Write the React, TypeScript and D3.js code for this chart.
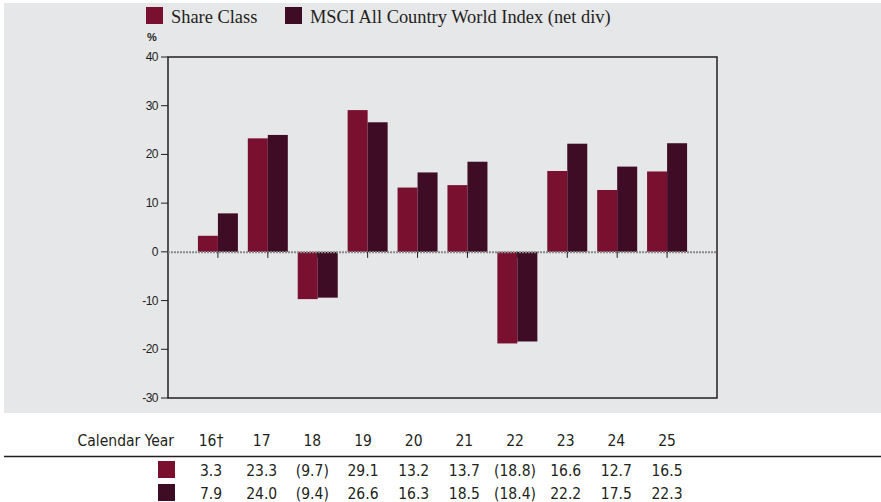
import * as d3 from "d3";

const years = ["16†", "17", "18", "19", "20", "21", "22", "23", "24", "25"];
const shareClass = [3.3, 23.3, -9.7, 29.1, 13.2, 13.7, -18.8, 16.6, 12.7, 16.5];
const msciIndex = [7.9, 24.0, -9.4, 26.6, 16.3, 18.5, -18.4, 22.2, 17.5, 22.3];
const yTicks = [40, 30, 20, 10, 0, -10, -20, -30];
const seriesNames = ["Share Class", "MSCI All Country World Index (net div)"];
const colors = ["#7a1030", "#3f0c26"];

const fmt = (v: number) => (v < 0 ? `(${Math.abs(v).toFixed(1)})` : v.toFixed(1));

export default function App() {
  const W = 881, H = 502;
  const left = 168, right = 717, top = 57, bottom = 398;
  const x = d3.scalePoint<string>().domain(years).range([left, right]).padding(1);
  const y = d3.scaleLinear().domain([-30, 40]).range([bottom, top]);
  const barW = 20;
  const tx = d3.scalePoint<string>().domain(years).range([211, 667]);
  const tableFont = "'DejaVu Sans Condensed', 'Open Sans', sans-serif";

  return (
    <svg width={W} height={H} style={{ position: "absolute", left: 0, top: 0 }}>
      <rect x={4} y={3} width={W - 4} height={410} fill="#e6e7e9" />
      {/* legend */}
      {seriesNames.map((n, i) => {
        const lx = i === 0 ? 146 : 285;
        return (
          <g key={n}>
            <rect x={lx} y={7} width={17} height={17} fill={colors[i]} />
            <text x={lx + 25} y={23} fontFamily="'Liberation Serif', serif" fontSize={18.4} fill="#231f20">
              {n}
            </text>
          </g>
        );
      })}
      <text x={147} y={41} fontFamily="'Liberation Sans', Arial, sans-serif" fontSize={11} fontWeight="bold" fill="#231f20">%</text>
      {/* frame */}
      <rect x={left} y={top} width={right - left} height={bottom - top} fill="none" stroke="#231f20" strokeWidth={1.5} />
      {yTicks.map((t) => (
        <g key={t}>
          <line x1={left - 7} x2={left} y1={y(t)} y2={y(t)} stroke="#231f20" />
          <text x={left - 10} y={y(t) + 4} textAnchor="end" fontFamily="'Liberation Sans', Arial, sans-serif" fontSize={12} letterSpacing={-0.5} fill="#231f20">
            {t}
          </text>
        </g>
      ))}
      {/* bars */}
      {years.map((yr, i) => {
        const cx = x(yr)!;
        return (
          <g key={yr}>
            {[shareClass[i], msciIndex[i]].map((v, j) => (
              <rect
                key={j}
                x={cx - barW + j * barW}
                y={y(Math.max(0, v))}
                width={barW}
                height={Math.abs(y(v) - y(0))}
                fill={colors[j]}
              />
            ))}
          </g>
        );
      })}
      <line x1={left} x2={right} y1={y(0) + 0.5} y2={y(0) + 0.5} stroke="#8a8a8a" strokeWidth={2} strokeDasharray="2,1" />
      {years.map((yr) => (
        <line key={yr} x1={x(yr)} x2={x(yr)} y1={y(0)} y2={y(0) + 6} stroke="#231f20" />
      ))}
      {/* table */}
      <text x={174} y={446} textAnchor="end" fontFamily={tableFont} fontSize={15.5} fill="#231f20">Calendar Year</text>
      {years.map((yr) => (
        <text key={yr} x={tx(yr)} y={446} textAnchor="middle" fontFamily={tableFont} fontSize={15.5} fill="#231f20">{yr}</text>
      ))}
      <line x1={4} x2={W} y1={456.5} y2={456.5} stroke="#231f20" strokeWidth={1.5} />
      {[shareClass, msciIndex].map((row, r) => (
        <g key={r}>
          <rect x={158} y={461 + r * 23} width={17} height={17} fill={colors[r]} />
          {row.map((v, i) => (
            <text key={i} x={tx(years[i])} y={476 + r * 23} textAnchor="middle" fontFamily={tableFont} fontSize={15.5} fill="#231f20">
              {fmt(v)}
            </text>
          ))}
        </g>
      ))}
    </svg>
  );
}
